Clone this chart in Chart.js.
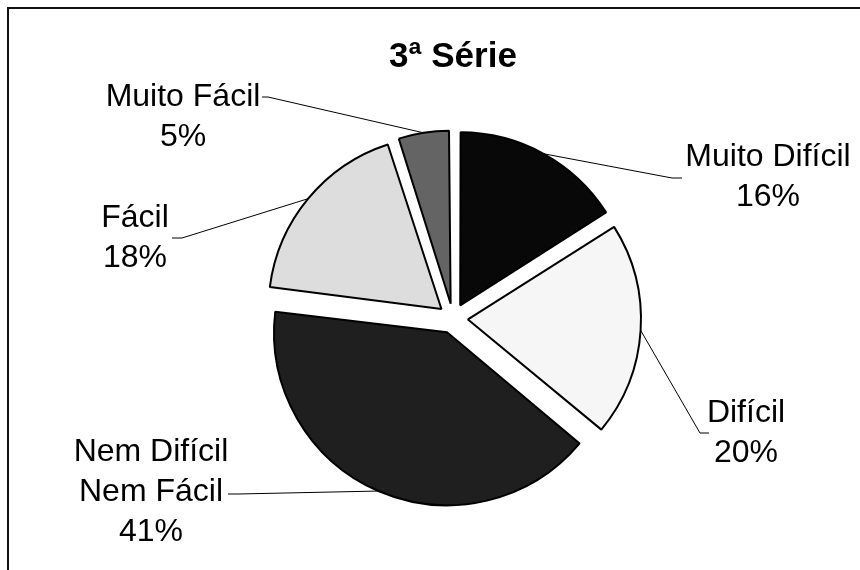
<!DOCTYPE html>
<html>
<head>
<meta charset="utf-8">
<script src="https://cdn.jsdelivr.net/npm/chart.js@4.4.1/dist/chart.umd.min.js"></script>
<style>
    body { margin: 0; background: #fff; }
    #wrap { position: relative; width: 860px; height: 570px; overflow: hidden; }
    #frame { position: absolute; left: 7px; top: 7px; width: 900px; height: 600px;
             border-top: 2px solid #111; border-left: 2px solid #111; }
    #chart { position: absolute; left: 0; top: 0; }
</style>
</head>
<body>
<div id="wrap">
    <div id="frame"></div>
    <canvas id="chart" width="860" height="570"></canvas>
</div>
<script>
const categories = ['Muito Difícil', 'Difícil', ['Nem Difícil', 'Nem Fácil'], 'Fácil', 'Muito Fácil'];
const values = [16, 20, 41, 18, 5];
const sliceColors = ['#080808', '#f6f6f6', '#1f1f1f', '#dddddd', '#646464'];

// posição dos rótulos: centro do texto, cotovelo e ponta da linha guia
const labelLayout = [
    { x: 768, y: 157, elbow: [672, 178], end: [682, 178] },
    { x: 746, y: 413, elbow: [700, 433], end: [709, 433] },
    { x: 151, y: 452, elbow: [238, 494], end: [228, 494] },
    { x: 135, y: 218, elbow: [182, 238], end: [172, 238] },
    { x: 183, y: 97, elbow: [268, 97], end: [262, 97] }
];
const SLICE_OFFSET = 60; // Chart.js desloca offset/4 px
const RADIUS = 173;

// compensa o aumento de raio que o Chart.js aplica nas fatias deslocadas
const fixRadius = {
    id: 'fixRadius',
    beforeDatasetsDraw(chart) {
        const meta = chart.getDatasetMeta(0);
        const base = meta.controller.outerRadius;
        meta.data.forEach(arc => {
            const circ = arc.endAngle - arc.startAngle;
            const fix = 1 - Math.sin(Math.min(Math.PI, circ));
            arc.outerRadius = base - (SLICE_OFFSET / 4) * fix;
        });
    }
};

const sliceLabels = {
    id: 'sliceLabels',
    afterDatasetsDraw(chart) {
        const ctx = chart.ctx;
        const meta = chart.getDatasetMeta(0);
        const R = meta.controller.outerRadius;
        ctx.save();
        meta.data.forEach((arc, i) => {
            const mid = (arc.startAngle + arc.endAngle) / 2;
            const d = SLICE_OFFSET / 4 + R;
            const ax = arc.x + Math.cos(mid) * d;
            const ay = arc.y + Math.sin(mid) * d;
            const lay = labelLayout[i];

            ctx.strokeStyle = '#000';
            ctx.lineWidth = 1;
            ctx.beginPath();
            ctx.moveTo(ax, ay);
            ctx.lineTo(lay.elbow[0], lay.elbow[1]);
            ctx.lineTo(lay.end[0], lay.end[1]);
            ctx.stroke();

            let lines = categories[i];
            if (!Array.isArray(lines)) lines = [lines];
            lines = lines.concat([values[i] + '%']);
            ctx.fillStyle = '#000';
            ctx.font = '32px "Liberation Sans", Arial, sans-serif';
            ctx.textAlign = 'center';
            ctx.textBaseline = 'middle';
            lines.forEach((t, k) => ctx.fillText(t, lay.x, lay.y + k * 40));
        });
        ctx.restore();
    }
};

new Chart(document.getElementById('chart'), {
    type: 'pie',
    data: {
        labels: categories,
        datasets: [{
            data: values,
            backgroundColor: sliceColors,
            borderColor: '#000',
            borderWidth: 2,
            offset: SLICE_OFFSET,
            radius: RADIUS
        }]
    },
    options: {
        responsive: false,
        animation: false,
        events: [],
        layout: { padding: { left: 46, right: 0, top: 17, bottom: 21 } },
        plugins: {
            legend: { display: false },
            tooltip: { enabled: false },
            title: {
                display: true,
                text: '3ª Série',
                color: '#000',
                font: { family: '"Liberation Sans", Arial, sans-serif', size: 35, weight: 'bold', lineHeight: 1.2 },
                padding: { top: 19, bottom: 10 }
            }
        }
    },
    plugins: [fixRadius, sliceLabels]
});
</script>
</body>
</html>
